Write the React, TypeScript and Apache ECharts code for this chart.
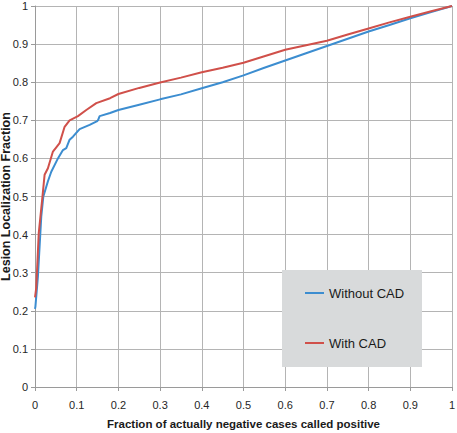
import React, { useEffect, useRef } from "react";
import * as echarts from "echarts";

const xTicks = [0, 0.1, 0.2, 0.3, 0.4, 0.5, 0.6, 0.7, 0.8, 0.9, 1];

const withoutX = [0, 0.001, 0.007, 0.015, 0.02, 0.031, 0.039, 0.055, 0.067, 0.075, 0.083, 0.091, 0.107, 0.131, 0.148, 0.151, 0.155, 0.18, 0.2, 0.25, 0.3, 0.35, 0.4, 0.45, 0.5, 0.55, 0.6, 0.65, 0.7, 0.75, 0.8, 0.85, 0.9, 0.95, 1];
const withoutY = [0.205, 0.211, 0.29, 0.447, 0.5, 0.54, 0.565, 0.6, 0.622, 0.627, 0.649, 0.657, 0.677, 0.688, 0.697, 0.7, 0.711, 0.719, 0.727, 0.741, 0.755, 0.768, 0.784, 0.8, 0.818, 0.838, 0.857, 0.876, 0.895, 0.914, 0.933, 0.95, 0.968, 0.984, 1.0];

const withX = [0, 0.003, 0.009, 0.017, 0.023, 0.031, 0.043, 0.059, 0.071, 0.083, 0.103, 0.123, 0.147, 0.18, 0.2, 0.25, 0.3, 0.35, 0.4, 0.45, 0.5, 0.55, 0.6, 0.65, 0.7, 0.75, 0.8, 0.85, 0.9, 0.95, 1];
const withY = [0.235, 0.26, 0.404, 0.49, 0.557, 0.574, 0.618, 0.64, 0.683, 0.7, 0.711, 0.727, 0.745, 0.758, 0.769, 0.785, 0.799, 0.812, 0.826, 0.838, 0.851, 0.868, 0.885, 0.897, 0.909, 0.925, 0.941, 0.957, 0.972, 0.986, 1.0];

const seriesNames = ["Without CAD", "With CAD"];
const xTitle = "Fraction of actually negative cases called positive";
const yTitle = "Lesion Localization Fraction";

export default function App() {
  const ref = useRef<HTMLDivElement>(null);
  useEffect(() => {
    document.body.style.margin = "0";
    const chart = echarts.init(ref.current!, null, { renderer: "svg" });
    const font = "Liberation Sans";
    const axisCommon = {
      type: "value" as const,
      min: 0,
      max: 1,
      interval: 0.1,
      nameLocation: "middle" as const,
      nameMoveOverlap: false,
      axisLine: { show: true, lineStyle: { color: "#9a9a9a", width: 1 } },
      axisTick: { show: true, length: 4, lineStyle: { color: "#9a9a9a" } },
      splitLine: { show: true, lineStyle: { color: "#b4b4b4", width: 1 } },
      axisLabel: { fontFamily: font, fontSize: 11, color: "#262626" },
    };
    chart.setOption({
      animation: false,
      backgroundColor: "#ffffff",
      grid: { left: 35, right: 5, top: 6, bottom: 46, containLabel: false, outerBoundsMode: "none" },
      xAxis: {
        ...axisCommon,
        name: xTitle,
        nameGap: 30,
        nameTextStyle: { fontFamily: font, fontWeight: "bold", fontSize: 11.5, color: "#1a1a1a", lineHeight: 13 },
        axisLabel: { ...axisCommon.axisLabel, margin: 12 },
      },
      yAxis: {
        ...axisCommon,
        name: yTitle,
        nameGap: 23,
        nameTextStyle: { fontFamily: font, fontWeight: "bold", fontSize: 12.5, color: "#1a1a1a", lineHeight: 12 },
        axisLabel: { ...axisCommon.axisLabel, margin: 7 },
      },
      graphic: [
        {
          type: "rect",
          left: 282,
          top: 270,
          z: 3,
          shape: { width: 140, height: 97 },
          style: { fill: "#d8dadb" },
        },
      ],
      legend: {
        orient: "vertical",
        left: 300,
        top: 281,
        icon: "rect",
        itemWidth: 19,
        itemHeight: 2,
        itemGap: 36,
        z: 5,
        textStyle: { fontFamily: font, fontSize: 13, color: "#1a1a1a", lineHeight: 14 },
        data: seriesNames,
      },
      series: [
        {
          name: seriesNames[0],
          type: "line",
          symbol: "none",
          lineStyle: { color: "#3c8dd0", width: 2 },
          itemStyle: { color: "#3c8dd0" },
          data: withoutX.map((x, i) => [x, withoutY[i]]),
          z: 3,
        },
        {
          name: seriesNames[1],
          type: "line",
          symbol: "none",
          lineStyle: { color: "#d0504a", width: 2 },
          itemStyle: { color: "#d0504a" },
          data: withX.map((x, i) => [x, withY[i]]),
          z: 4,
        },
      ],
    });
    return () => chart.dispose();
  }, []);
  return <div ref={ref} style={{ width: 457, height: 433 }} />;
}
